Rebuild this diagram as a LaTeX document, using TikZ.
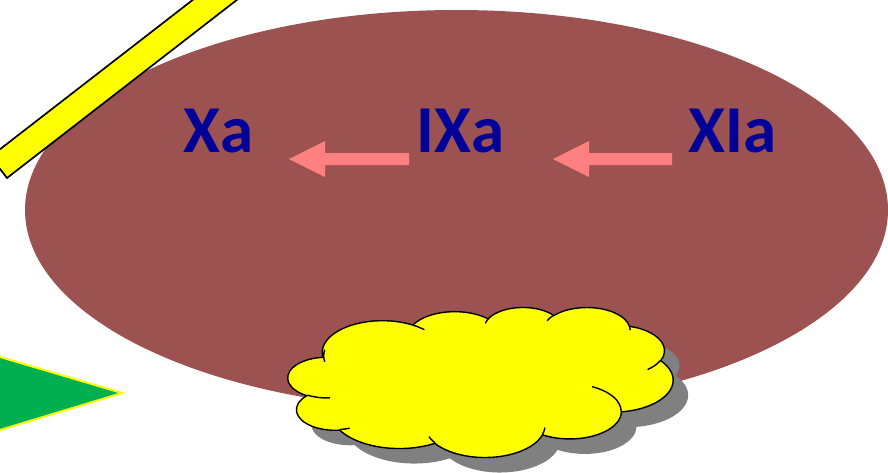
\documentclass[tikz,border=0pt]{standalone}
\usepackage{fontspec}
\setmainfont{Carlito}
\definecolor{brownc}{RGB}{157,82,82}
\definecolor{pinkc}{RGB}{255,128,128}
\definecolor{greenc}{RGB}{0,176,80}
\definecolor{yellowc}{RGB}{255,255,0}
\definecolor{shadowc}{RGB}{128,128,128}
\definecolor{textc}{RGB}{0,0,153}
\tikzset{
  lab/.style={font=\fontsize{67}{67}\selectfont\bfseries, text=textc, inner sep=0pt, anchor=base west},
  barshape/.style={fill=yellowc, draw=black, line width=1.7pt, line join=miter},
  trishape/.style={fill=greenc, draw=yellowc, line width=2pt},
  arrowshape/.style={fill=pinkc},
}
\newcommand\cloudshape[1]{%
  \path[#1] (3.9,14.37)
    arc[x radius=6.753, y radius=9.19,  start angle=-187.77, end angle=-59.64]
    arc[x radius=5.333, y radius=7.267, start angle=-152.03, end angle=-45.45]
    arc[x radius=4.365, y radius=5.945, start angle=-153.49, end angle=-37.32]
    arc[x radius=4.857, y radius=6.595, start angle=-139.72, end angle=-10.22]
    arc[x radius=5.333, y radius=7.273, start angle=-74.77,  end angle=23.21]
    arc[x radius=6.775, y radius=9.22,  start angle=-37.53,  end angle=81.86]
    arc[x radius=5.785, y radius=7.867, start angle=0.46,    end angle=121.99]
    arc[x radius=6.752, y radius=9.215, start angle=16.85,   end angle=146.22]
    arc[x radius=7.72,  y radius=10.543,start angle=58.97,   end angle=150.18]
    arc[x radius=4.36,  y radius=5.918, start angle=83.31,   end angle=223.12]
    arc[x radius=4.345, y radius=5.945, start angle=120.35,  end angle=264.11]
    -- cycle;}
\begin{document}
\begin{tikzpicture}[x=1pt,y=-1pt]
\useasboundingbox (0,0) rectangle (888,472);
\clip (0,0) rectangle (888,472);
% big ellipse
\fill[brownc] (456.5,210) ellipse [x radius=431.5, y radius=200];
% yellow bar
\draw[barshape] (7,178) -- (260,-18) -- (243.5,-39.4) -- (-9.5,156.6) -- cycle;
% green triangle
\draw[trishape] (-10,354) -- (122,393) -- (-10,433) -- cycle;
% cloud shadow
\begin{scope}[shift={(303,322)}, x=8.912pt, y=-3.472pt]
  \cloudshape{fill=shadowc}
\end{scope}
% cloud
\begin{scope}[shift={(288,307)}, x=8.912pt, y=-3.472pt]
  \cloudshape{fill=yellowc, draw=black, line width=1.4pt}
  \draw[black, line width=1.4pt]
    (4.693,26.177) arc[x radius=4.345, y radius=5.945, start angle=85.54, end angle=120.35]
    (6.928,34.899) arc[x radius=4.36, y radius=5.918, start angle=68.23, end angle=83.31]
    (16.478,39.09) arc[x radius=6.752, y radius=9.215, start angle=146.22, end angle=158.47]
    (28.827,34.751) arc[x radius=6.752, y radius=9.215, start angle=4.74, end angle=16.85]
    (34.129,22.954) arc[x radius=5.785, y radius=7.867, start angle=-64.02, end angle=0.46]
    (41.798,15.354) arc[x radius=5.333, y radius=7.273, start angle=23.21, end angle=49.64]
    (38.324,5.426) arc[x radius=4.857, y radius=6.595, start angle=-10.22, end angle=0.82]
    (29.078,3.952) arc[x radius=4.857, y radius=6.595, start angle=-156.29, end angle=-139.72]
    (22.141,4.72) arc[x radius=4.365, y radius=5.945, start angle=-167.72, end angle=-153.49]
    (14.0,5.192) arc[x radius=6.753, y radius=9.19, start angle=-59.64, end angle=-45.74]
    (4.127,15.789) arc[x radius=6.753, y radius=9.19, start angle=168.94, end angle=190.86];
\end{scope}
% labels
\node[lab] (xa) at (183,152) {Xa};
\node[lab] (ixa) at (416,152) {IXa};
\node[lab] (xia) at (688,152) {XIa};
% arrows
\coordinate (a1s) at (409,159);
\coordinate (a1t) at (289,159);
\coordinate (a2s) at (672,159);
\coordinate (a2t) at (553,159);
\fill[arrowshape] (a1s) ++(0,-6) -- ++(-84,0) -- ++(0,-12) -- (a1t) -- ++(36,18) -- ++(0,-12) -- ++(84,0) -- cycle;
\fill[arrowshape] (a2s) ++(0,-6) -- ++(-83,0) -- ++(0,-12) -- (a2t) -- ++(36,18) -- ++(0,-12) -- ++(83,0) -- cycle;
\end{tikzpicture}
\end{document}
